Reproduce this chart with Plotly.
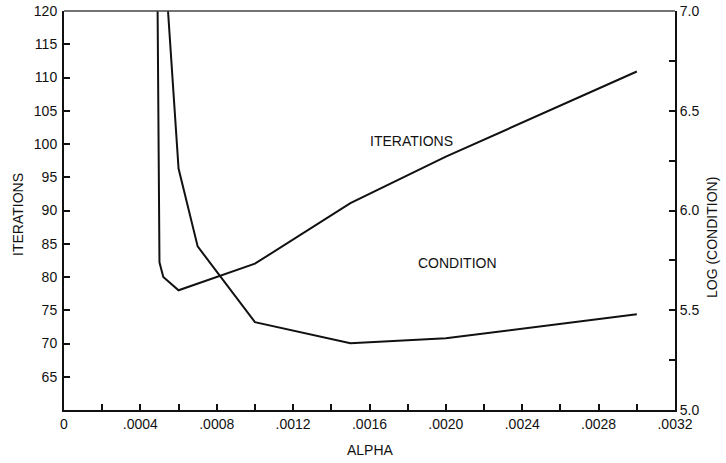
import plotly.graph_objects as go

# Iterations vs. alpha (left axis)
iter_alpha = [0.00049, 0.00050, 0.00052, 0.00060, 0.00100, 0.00150, 0.00200, 0.00300]
iter_values = [121.0, 82.2, 80.0, 78.0, 82.0, 91.1, 98.1, 110.9]

# log(condition) vs. alpha (right axis)
cond_alpha = [0.00050, 0.00060, 0.00070, 0.00100, 0.00150, 0.00200, 0.00300]
cond_values = [7.64, 6.21, 5.82, 5.44, 5.335, 5.36, 5.48]

# Axis ticks
x_ticks = [i * 0.0002 for i in range(17)]
x_labels = ["0", ".0004", ".0008", ".0012", ".0016", ".0020", ".0024", ".0028", ".0032"]
x_ticktext = [x_labels[i // 2] if i % 2 == 0 else "" for i in range(17)]
y_ticks = list(range(65, 121, 5))
y2_ticks = [5.0 + 0.25 * i for i in range(9)]
y2_ticktext = [f"{v:.1f}" if i % 2 == 0 else "" for i, v in enumerate(y2_ticks)]

FONT = "Liberation Sans, Arial, Helvetica, sans-serif"
INK = "#111111"
FS = 14

W, H = 726, 463
ML, MR, MT, MB = 64, 51, 11, 53

fig = go.Figure()
fig.add_trace(go.Scatter(x=iter_alpha, y=iter_values, mode="lines",
                         line=dict(color=INK, width=2), yaxis="y",
                         showlegend=False, hoverinfo="skip"))
fig.add_trace(go.Scatter(x=cond_alpha, y=cond_values, mode="lines",
                         line=dict(color=INK, width=2), yaxis="y2",
                         showlegend=False, hoverinfo="skip"))

tick_font = dict(family=FONT, size=FS, color=INK)
fig.update_layout(
    width=W, height=H,
    margin=dict(l=ML, r=MR, t=MT, b=MB, autoexpand=False),
    paper_bgcolor="white", plot_bgcolor="white",
    font=dict(family=FONT, size=FS, color=INK),
    xaxis=dict(range=[0, 0.0032], tickvals=x_ticks, ticktext=x_ticktext,
               ticks="inside", ticklen=6, tickwidth=2, tickcolor=INK,
               showline=True, linewidth=2, linecolor=INK,
               showgrid=False, zeroline=False, automargin=False,
               tickfont=tick_font),
    yaxis=dict(range=[60, 120], tickvals=y_ticks,
               ticks="inside", ticklen=6, tickwidth=1.5, tickcolor=INK,
               showline=True, linewidth=2, linecolor=INK,
               showgrid=False, zeroline=False, automargin=False,
               ticklabelstandoff=2, tickfont=tick_font),
    yaxis2=dict(range=[5.0, 7.0], tickvals=y2_ticks, ticktext=y2_ticktext,
                overlaying="y", side="right",
                ticks="inside", ticklen=6, tickwidth=1.5, tickcolor=INK,
                showline=True, linewidth=2, linecolor=INK,
                showgrid=False, zeroline=False, automargin=False,
                tickfont=tick_font),
)

# thinner, lighter frame line along the top of the plot area
fig.add_shape(type="line", xref="paper", yref="paper", x0=0, x1=1, y0=1, y1=1,
              line=dict(color="#444444", width=1.5))

pw, ph = W - ML - MR, H - MT - MB


def px(xp):
    return (xp - ML) / pw


def py(yp):
    return (H - MB - yp) / ph


centered = dict(showarrow=False, xanchor="center", yanchor="middle", font=tick_font)
annotations = [
    dict(text="ITERATIONS", x=0.00182, y=100.5, xref="x", yref="y", **centered),
    dict(text="CONDITION", x=0.00206, y=82.1, xref="x", yref="y", **centered),
    dict(text="ITERATIONS", x=px(18), y=py(215), xref="paper", yref="paper",
         textangle=-90, **centered),
    dict(text="LOG (CONDITION)", x=px(712), y=py(238), xref="paper", yref="paper",
         textangle=-90, **centered),
    dict(text="ALPHA", x=px(370), y=py(450), xref="paper", yref="paper", **centered),
]
fig.update_layout(annotations=annotations)

fig.write_html("out.html")
